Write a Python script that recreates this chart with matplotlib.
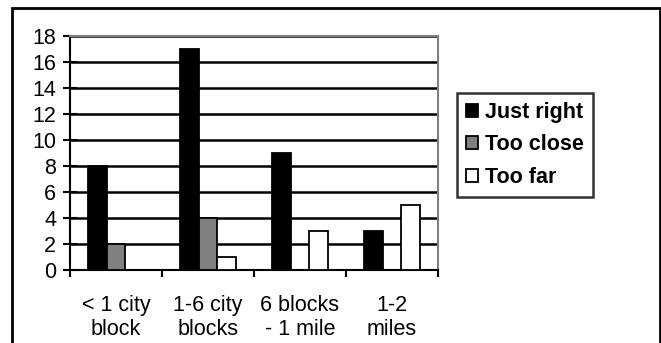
import matplotlib
matplotlib.use("Agg")
import matplotlib.pyplot as plt
import numpy as np
from matplotlib.patches import Rectangle

categories = ["< 1 city\nblock", "1-6 city\nblocks", "6 blocks\n- 1 mile", "1-2\nmiles"]
just_right = [8, 17, 9, 3]
too_close = [2, 4, 0, 0]
too_far = [0, 1, 3, 5]
series_names = ["Just right", "Too close", "Too far"]
y_ticks = [0, 2, 4, 6, 8, 10, 12, 14, 16, 18]

plt.rcParams['font.family'] = ['Liberation Sans', 'DejaVu Sans']

W, H = 661, 343
fig = plt.figure(figsize=(W / 100, H / 100), dpi=100)
ax = fig.add_axes([70 / W, 1 - 270 / H, (438 - 70) / W, (270 - 36) / H])

x = np.arange(len(categories))
w = 0.2
colors = ["#000000", "#808080", "#ffffff"]
for i, (vals, c, name) in enumerate(zip([just_right, too_close, too_far], colors, series_names)):
    vals_arr = np.array(vals, dtype=float)
    ax.bar(x + (i - 1) * w, vals_arr, width=w, color=c, edgecolor="black",
           linewidth=1.3, label=name, zorder=3)

ax.set_xlim(-0.5, len(categories) - 0.5)
ax.set_ylim(0, 18)
ax.set_yticks(y_ticks)
ax.set_yticklabels([str(t) for t in y_ticks], fontsize=15.5)
for t in y_ticks[1:]:
    ax.axhline(t, color="black", linewidth=1.8, zorder=1)

# category boundaries carry the x tick marks; labels sit centred underneath
ax.set_xticks(np.arange(len(categories) + 1) - 0.5)
ax.set_xticklabels([""] * (len(categories) + 1))
ax.set_xticks(x, minor=True)
ax.set_xticklabels(categories, minor=True, fontsize=15.5, linespacing=1.2)
ax.tick_params(axis="x", which="minor", length=0, pad=18)
ax.tick_params(axis="x", which="major", length=5, width=1.5, direction="out")
ax.tick_params(axis="y", length=10, width=1.5, direction="inout", pad=5)

ax.spines["left"].set_color("black")
ax.spines["bottom"].set_color("black")
ax.spines["left"].set_linewidth(1.5)
ax.spines["bottom"].set_linewidth(1.5)
ax.spines["top"].set_color("#808080")
ax.spines["right"].set_color("#808080")
ax.spines["top"].set_linewidth(1.5)
ax.spines["right"].set_linewidth(1.5)

leg = fig.legend(loc="upper left", bbox_to_anchor=(457 / W, 1 - 93 / H),
                 bbox_transform=fig.transFigure, frameon=True, fancybox=False,
                 prop={"weight": "bold", "size": 15.5}, handlelength=0.56,
                 handleheight=0.56, handletextpad=0.32, labelspacing=0.53,
                 borderpad=0.42, borderaxespad=0)
leg.get_frame().set_edgecolor("black")
leg.get_frame().set_linewidth(1.8)

# chart border
fig.patches.append(Rectangle((12 / W, -0.05), (660 - 12) / W, 1.05 - 8 / H,
                             transform=fig.transFigure, fill=False,
                             edgecolor="black", linewidth=2))

fig.savefig("out.png", dpi=100)
